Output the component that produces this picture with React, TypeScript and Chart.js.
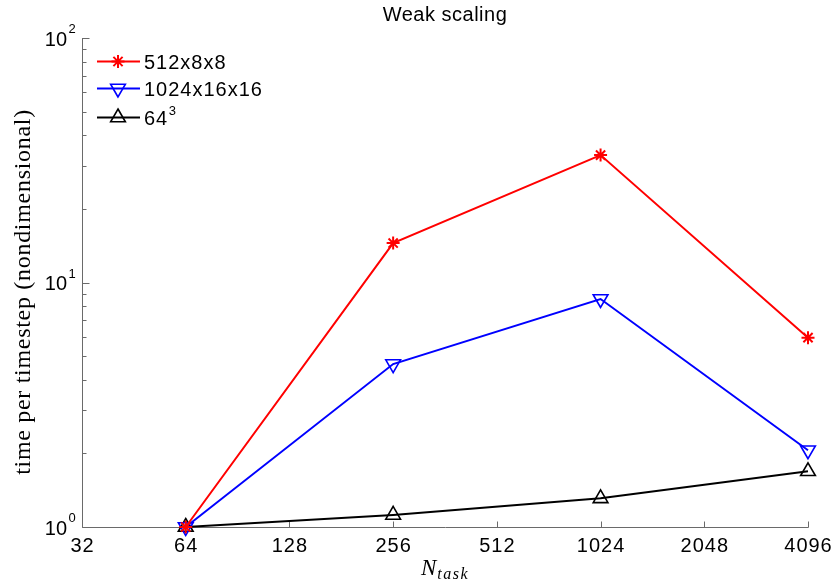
import React, { useEffect, useRef } from 'react';
import { Chart, registerables } from 'chart.js';

Chart.register(...registerables);

const xValues = [64, 256, 1024, 4096];
const series512 = [1, 14.5, 33.2, 5.95];
const series1024 = [1, 4.64, 8.56, 2.06];
const series64 = [1, 1.12, 1.31, 1.69];
const seriesNames = ['512x8x8', '1024x16x16', '64'];
const seriesSups = ['', '', '3'];
const seriesColors = ['#ff0000', '#0000ff', '#000000'];
const xTicks = [32, 64, 128, 256, 512, 1024, 2048, 4096];
const yTicks = [1, 10, 100];
const yTickExps = ['0', '1', '2'];
const titleText = 'Weak scaling';
const yTitleText = 'time per timestep (nondimensional)';
const xTitleMain = 'N';
const xTitleSub = 'task';

const SANS = '"Liberation Sans", Arial, Helvetica, sans-serif';
const SERIF = '"Liberation Serif", "Times New Roman", serif';

function drawMarker(ctx: CanvasRenderingContext2D, style: string, x: number, y: number, r: number, rot: number) {
  ctx.beginPath();
  if (style === 'star') {
    for (let k = 0; k < 4; k++) {
      const a = (k * Math.PI) / 4;
      ctx.moveTo(x - Math.cos(a) * r, y - Math.sin(a) * r);
      ctx.lineTo(x + Math.cos(a) * r, y + Math.sin(a) * r);
    }
    ctx.stroke();
  } else {
    let rad = rot;
    ctx.moveTo(x + Math.sin(rad) * r, y - Math.cos(rad) * r);
    rad += (2 * Math.PI) / 3;
    ctx.lineTo(x + Math.sin(rad) * r, y - Math.cos(rad) * r);
    rad += (2 * Math.PI) / 3;
    ctx.lineTo(x + Math.sin(rad) * r, y - Math.cos(rad) * r);
    ctx.closePath();
    ctx.stroke();
  }
}

const markerStyles = ['star', 'triangle', 'triangle'];
const markerRot = [0, Math.PI, 0];
const markerRad = [6.5, 8.5, 8.5];

const overlayPlugin = {
  id: 'overlay',
  beforeDatasetsDraw(chart: any) {
    const { ctx, chartArea: a, scales } = chart;
    const xs = scales.x;
    const ys = scales.y;
    ctx.save();
    ctx.strokeStyle = '#6a6a6a';
    ctx.lineWidth = 1;
    const L = Math.round(a.left) + 0.5;
    const B = Math.round(a.bottom) + 0.5;
    ctx.beginPath();
    ctx.moveTo(L, Math.round(ys.getPixelForValue(100)));
    ctx.lineTo(L, B);
    ctx.lineTo(Math.round(xs.getPixelForValue(4096)) + 0.5, B);
    ctx.stroke();
    // x ticks
    ctx.beginPath();
    for (const v of xTicks) {
      const px = Math.round(xs.getPixelForValue(v)) + 0.5;
      ctx.moveTo(px, B);
      ctx.lineTo(px, B - 6);
    }
    // y ticks
    for (const v of yTicks) {
      const py = Math.round(ys.getPixelForValue(v)) + 0.5;
      ctx.moveTo(L, py);
      ctx.lineTo(L + 7, py);
    }
    for (const d of [1, 10]) {
      for (let k = 2; k <= 9; k++) {
        const py = Math.round(ys.getPixelForValue(d * k)) + 0.5;
        ctx.moveTo(L, py);
        ctx.lineTo(L + 4, py);
      }
    }
    ctx.stroke();

    ctx.fillStyle = '#000';
    // x tick labels
    ctx.font = '20px ' + SANS;
    (ctx as any).letterSpacing = '1px';
    ctx.textAlign = 'center';
    ctx.textBaseline = 'alphabetic';
    for (const v of xTicks) {
      const px = xs.getPixelForValue(v);
      ctx.fillText(String(v), px + 0.5, 552);
    }
    // y tick labels
    (ctx as any).letterSpacing = '0px';
    yTicks.forEach((v, i) => {
      const py = ys.getPixelForValue(v);
      ctx.font = '20px ' + SANS;
      ctx.textAlign = 'right';
      ctx.fillText('10', 67, py + 7.5);
      ctx.font = '13px ' + SANS;
      ctx.textAlign = 'left';
      ctx.fillText(yTickExps[i], 68.5, py - 5);
    });
    // title
    ctx.font = '20px ' + SANS;
    (ctx as any).letterSpacing = '0.5px';
    ctx.textAlign = 'center';
    ctx.fillText(titleText, (a.left + a.right) / 2, 21);
    (ctx as any).letterSpacing = '0px';
    // y title
    ctx.save();
    ctx.translate(30, 292);
    ctx.rotate(-Math.PI / 2);
    ctx.font = '24px ' + SERIF;
    (ctx as any).letterSpacing = '0.7px';
    ctx.textAlign = 'center';
    ctx.fillText(yTitleText, 0, 0);
    (ctx as any).letterSpacing = '0px';
    ctx.restore();
    // x title
    ctx.font = 'italic 23px ' + SERIF;
    ctx.textAlign = 'left';
    const nW = ctx.measureText(xTitleMain).width;
    ctx.font = 'italic 16px ' + SERIF;
    (ctx as any).letterSpacing = '1.5px';
    const sW = ctx.measureText(xTitleSub).width;
    const cx = (a.left + a.right) / 2;
    const startX = cx - (nW + sW + 1) / 2;
    ctx.font = 'italic 23px ' + SERIF;
    (ctx as any).letterSpacing = '0px';
    ctx.fillText(xTitleMain, startX, 575);
    ctx.font = 'italic 16px ' + SERIF;
    (ctx as any).letterSpacing = '1.5px';
    ctx.fillText(xTitleSub, startX + nW + 1, 579);
    (ctx as any).letterSpacing = '0px';
    ctx.restore();
  },
  afterDraw(chart: any) {
    const { ctx } = chart;
    ctx.save();
    const rows = [61, 88, 117];
    seriesNames.forEach((name, i) => {
      const y = rows[i];
      ctx.strokeStyle = seriesColors[i];
      ctx.lineWidth = 2;
      ctx.beginPath();
      ctx.moveTo(97, y + 0.5);
      ctx.lineTo(140, y + 0.5);
      ctx.stroke();
      ctx.lineWidth = i === 0 ? 2 : 1.6;
      drawMarker(ctx, markerStyles[i], 118, y + 0.5, markerRad[i], markerRot[i]);
      ctx.fillStyle = '#000';
      ctx.font = '20px ' + SANS;
      (ctx as any).letterSpacing = '1px';
      ctx.textAlign = 'left';
      ctx.textBaseline = 'alphabetic';
      ctx.fillText(name, 144, y + 7.5);
      if (seriesSups[i]) {
        const w = ctx.measureText(name).width;
        ctx.font = '13px ' + SANS;
        ctx.fillText(seriesSups[i], 144 + w + 0.5, y - 2);
      }
      (ctx as any).letterSpacing = '0px';
    });
    ctx.restore();
  },
};

export default function App() {
  const ref = useRef<HTMLCanvasElement | null>(null);
  useEffect(() => {
    if (!ref.current) return;
    const allSeries = [series512, series1024, series64];
    const chart = new Chart(ref.current, {
      type: 'line',
      data: {
        datasets: allSeries.map((s, i) => ({
          label: seriesNames[i] + seriesSups[i],
          data: xValues.map((x, j) => ({ x, y: s[j] })),
          borderColor: seriesColors[i],
          backgroundColor: 'transparent',
          pointBorderColor: seriesColors[i],
          pointBackgroundColor: 'transparent',
          borderWidth: 2,
          pointStyle: markerStyles[i] as any,
          pointRotation: (markerRot[i] * 180) / Math.PI,
          pointRadius: markerRad[i],
          pointBorderWidth: i === 0 ? 2 : 1.6,
          tension: 0,
          clip: false as any,
        })),
      },
      options: {
        animation: false,
        responsive: false,
        devicePixelRatio: 1,
        layout: { padding: { left: 82, right: 30, top: 38, bottom: 58 } },
        plugins: { legend: { display: false }, tooltip: { enabled: false }, title: { display: false } },
        events: [],
        scales: {
          x: { type: 'logarithmic', min: 32, max: 4096, display: false },
          y: { type: 'logarithmic', min: 1, max: 100, display: false },
        },
      },
      plugins: [overlayPlugin],
    });
    return () => chart.destroy();
  }, []);
  return (
    <div style={{ position: 'fixed', left: 0, top: 0, width: 838, height: 585, background: '#fff' }}>
      <canvas ref={ref} width={838} height={585} style={{ display: 'block', width: 838, height: 585 }} />
    </div>
  );
}
